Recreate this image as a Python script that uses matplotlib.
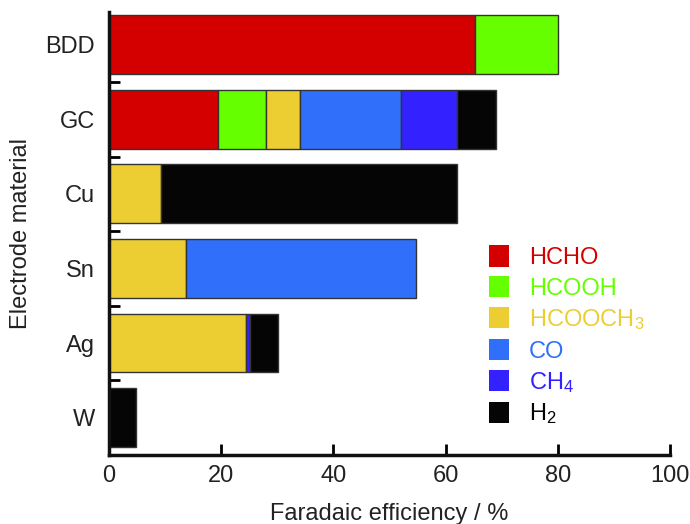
import numpy as np
import matplotlib.pyplot as plt
from matplotlib.patches import Patch
from matplotlib.ticker import FixedLocator

plt.rcParams['font.family'] = ['Liberation Sans', 'DejaVu Sans']
plt.rcParams['mathtext.default'] = 'regular'

electrodes = ["W", "Ag", "Sn", "Cu", "GC", "BDD"]
products = ["HCHO", "HCOOH", "HCOOCH$_3$", "CO", "CH$_4$", "H$_2$"]
colors = ["#d40000", "#66ff00", "#ecce33", "#2f6ff9", "#3322ff", "#050505"]

# faradaic efficiency (%) per product, one entry per electrode (W..BDD)
fe_hcho    = [0.0, 0.0, 0.0, 0.0, 19.4, 65.2]
fe_hcooh   = [0.0, 0.0, 0.0, 0.0, 8.6, 14.8]
fe_hcooch3 = [0.0, 24.4, 13.7, 9.3, 6.0, 0.0]
fe_co      = [0.0, 0.0, 41.0, 0.0, 18.0, 0.0]
fe_ch4     = [0.0, 0.7, 0.0, 0.0, 10.0, 0.0]
fe_h2      = [4.8, 5.0, 0.0, 52.7, 7.0, 0.0]

series = [fe_hcho, fe_hcooh, fe_hcooch3, fe_co, fe_ch4, fe_h2]

fig = plt.figure(figsize=(6.9, 5.24), dpi=100)
ax = fig.add_axes([0.158, 0.132, 0.813, 0.845])

y = np.arange(len(electrodes))
left = np.zeros(len(electrodes))
for vals, c in zip(series, colors):
    vals = np.array(vals)
    mask = vals > 0
    ax.barh(y[mask], vals[mask], left=left[mask], height=0.79, color=c,
            edgecolor="#333333", linewidth=1.0)
    left += vals

ax.set_xlim(0, 100)
ax.set_ylim(-0.5, 5.44)
ax.set_xticks([0, 20, 40, 60, 80, 100])
ax.set_yticks(y)
ax.set_yticklabels(electrodes)
ax.yaxis.set_minor_locator(FixedLocator(y[:-1] + 0.5))

for s in ["top", "right"]:
    ax.spines[s].set_visible(False)
for s in ["left", "bottom"]:
    ax.spines[s].set_linewidth(2.5)
    ax.spines[s].set_color("#111111")

ax.tick_params(axis="x", direction="in", length=8, width=2, labelsize=17, pad=7,
               labelcolor="#222222")
ax.tick_params(axis="y", which="major", length=0, labelsize=17, pad=10,
               labelcolor="#222222")
ax.tick_params(axis="y", which="minor", direction="in", length=8, width=2)

ax.set_xlabel("Faradaic efficiency / %", fontsize=17, labelpad=12, color="#222222")
ax.set_ylabel("Electrode material", fontsize=17, labelpad=10, color="#222222")

handles = [Patch(facecolor=c, edgecolor="none") for c in colors]
leg = ax.legend(handles, products, loc="lower left", bbox_to_anchor=(0.639, 0.016),
                frameon=False, fontsize=17, handlelength=0.85, handleheight=1.0,
                handletextpad=0.85, labelspacing=0.3)
for txt, c in zip(leg.get_texts(), colors):
    txt.set_color(c)

fig.savefig("out.png", dpi=100)
